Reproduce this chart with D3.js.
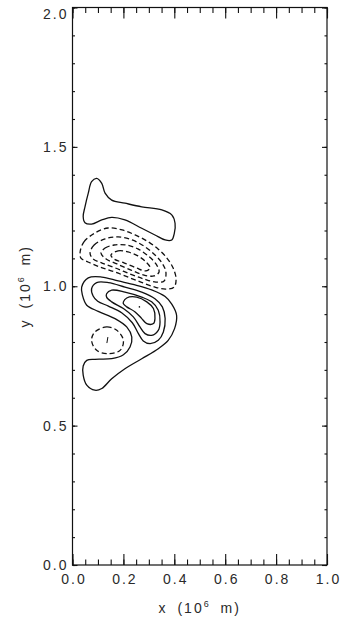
<!DOCTYPE html>
<html>
<head>
  <script src="https://d3js.org/d3.v7.min.js"></script>
  <style>
    body { margin: 0; background: #fff; }
    svg { display: block; }
    .axis path { display: none; }
    .axis line { stroke: #111; stroke-width: 1.1px; }
    .axis text, .title {
      font-family: "Liberation Sans", Arial, sans-serif;
      font-size: 14px;
      fill: #2a2a2a;
      letter-spacing: 2px;
    }
    .frame { fill: none; stroke: #111; stroke-width: 1.2px; }
    .contour { fill: none; stroke: #111; stroke-width: 1.3px; }
    .contour.neg { stroke-dasharray: 5 3; }
  </style>
</head>
<body>
  <script>
    // axis ticks
    var xTicks = [0.0, 0.2, 0.4, 0.6, 0.8, 1.0];
    var yTicks = [0.0, 0.5, 1.0, 1.5, 2.0];

    // positive contours (solid), in units of 10^6 m
    var topLobe = [[0.095,1.387],[0.115,1.369],[0.128,1.334],[0.154,1.309],[0.206,1.298],[0.272,1.285],
      [0.351,1.274],[0.390,1.256],[0.403,1.226],[0.400,1.190],[0.390,1.166],[0.364,1.166],[0.324,1.184],
      [0.272,1.208],[0.206,1.238],[0.154,1.247],[0.115,1.238],[0.075,1.223],[0.049,1.228],[0.042,1.250],
      [0.049,1.285],[0.062,1.334],[0.075,1.375]];
    var posOuter = [[0.036,0.997],[0.062,1.030],[0.115,1.033],[0.180,1.019],[0.246,1.005],[0.311,0.987],
      [0.364,0.963],[0.390,0.936],[0.409,0.896],[0.401,0.848],[0.376,0.806],[0.337,0.776],[0.272,0.740],
      [0.206,0.704],[0.154,0.668],[0.115,0.633],[0.088,0.627],[0.056,0.645],[0.042,0.681],[0.042,0.714],
      [0.056,0.734],[0.088,0.738],[0.154,0.740],[0.200,0.754],[0.226,0.782],[0.233,0.818],[0.213,0.854],
      [0.167,0.884],[0.101,0.910],[0.056,0.932],[0.039,0.968]];
    var posMid = [[0.075,0.991],[0.095,1.013],[0.141,1.013],[0.206,0.997],[0.272,0.979],[0.324,0.955],
      [0.353,0.926],[0.364,0.884],[0.357,0.836],[0.337,0.806],[0.305,0.794],[0.278,0.804],[0.259,0.830],
      [0.235,0.869],[0.193,0.905],[0.141,0.929],[0.099,0.946],[0.081,0.965]];
    var posInner = [[0.134,0.973],[0.154,0.986],[0.206,0.979],[0.272,0.961],[0.311,0.944],[0.337,0.914],
      [0.344,0.872],[0.337,0.842],[0.311,0.824],[0.285,0.830],[0.265,0.854],[0.239,0.890],[0.200,0.920],
      [0.154,0.944],[0.134,0.961]];
    var posCore = [[0.200,0.944],[0.213,0.958],[0.252,0.961],[0.292,0.944],[0.318,0.920],[0.324,0.884],
      [0.318,0.866],[0.292,0.866],[0.272,0.884],[0.246,0.908],[0.213,0.926],[0.200,0.937]];
    var posMax = [[0.263,0.926]];

    // negative contours (dashed)
    var negOuter = [[0.030,1.123],[0.045,1.159],[0.088,1.191],[0.140,1.209],[0.195,1.202],[0.246,1.184],
      [0.293,1.162],[0.336,1.134],[0.371,1.101],[0.395,1.066],[0.407,1.026],[0.399,0.997],[0.367,0.990],
      [0.324,0.997],[0.277,1.012],[0.226,1.030],[0.167,1.051],[0.108,1.069],[0.061,1.087],[0.033,1.101]];
    var negMid = [[0.069,1.119],[0.085,1.148],[0.128,1.170],[0.179,1.177],[0.234,1.166],[0.281,1.144],
      [0.320,1.116],[0.352,1.083],[0.367,1.051],[0.360,1.019],[0.328,1.015],[0.281,1.026],[0.226,1.044],
      [0.167,1.066],[0.116,1.083],[0.081,1.098]];
    var negInner = [[0.112,1.119],[0.128,1.137],[0.163,1.148],[0.210,1.148],[0.257,1.134],[0.297,1.109],
      [0.328,1.080],[0.340,1.051],[0.320,1.037],[0.281,1.040],[0.230,1.058],[0.175,1.080],[0.132,1.098]];
    var negCore = [[0.151,1.112],[0.179,1.127],[0.218,1.123],[0.257,1.109],[0.289,1.087],[0.305,1.066],
      [0.289,1.055],[0.250,1.066],[0.202,1.084],[0.163,1.098]];
    var negSmall = [[0.088,0.836],[0.134,0.854],[0.174,0.842],[0.200,0.806],[0.187,0.770],[0.141,0.758],
      [0.095,0.770],[0.075,0.806]];
    var negMin = [[0.139,0.807]];

    var width = 344, height = 618;
    var margin = {top: 7.5, right: 17, bottom: 53, left: 72.5};

    var svg = d3.select("body").append("svg")
        .attr("width", width)
        .attr("height", height);

    var x = d3.scaleLinear()
        .domain([0, 1])
        .range([margin.left, width - margin.right]);
    var y = d3.scaleLinear()
        .domain([0, 2])
        .range([height - margin.bottom, margin.top]);

    var xMinor = d3.range(0, 1.0001, 0.05);
    var yMinor = d3.range(0, 2.0001, 0.1);

    // frame
    svg.append("rect")
        .attr("class", "frame")
        .attr("x", x(0)).attr("y", y(2))
        .attr("width", x(1) - x(0))
        .attr("height", y(0) - y(2));

    // minor ticks
    svg.append("g").attr("class", "axis")
        .attr("transform", "translate(0," + y(0) + ")")
        .call(d3.axisBottom(x).tickValues(xMinor).tickSize(-5.5).tickFormat(""));
    svg.append("g").attr("class", "axis")
        .attr("transform", "translate(0," + y(2) + ")")
        .call(d3.axisTop(x).tickValues(xMinor).tickSize(-5.5).tickFormat(""));
    svg.append("g").attr("class", "axis")
        .attr("transform", "translate(" + x(0) + ",0)")
        .call(d3.axisLeft(y).tickValues(yMinor).tickSize(-2.5).tickFormat(""));
    svg.append("g").attr("class", "axis")
        .attr("transform", "translate(" + x(1) + ",0)")
        .call(d3.axisRight(y).tickValues(yMinor).tickSize(-2.5).tickFormat(""));

    // major ticks + labels
    svg.append("g").attr("class", "axis")
        .attr("transform", "translate(0," + y(0) + ")")
        .call(d3.axisBottom(x).tickValues(xTicks).tickSize(-11).tickPadding(9).tickFormat(d3.format(".1f")))
      .selectAll("text").attr("dx", "1px");
    svg.append("g").attr("class", "axis")
        .attr("transform", "translate(0," + y(2) + ")")
        .call(d3.axisTop(x).tickValues(xTicks).tickSize(-11).tickFormat(""));
    var yAx = svg.append("g").attr("class", "axis")
        .attr("transform", "translate(" + x(0) + ",0)")
        .call(d3.axisLeft(y).tickValues(yTicks).tickSize(-5).tickPadding(4).tickFormat(d3.format(".1f")));
    yAx.selectAll(".tick text")
        .attr("y", function(d) { return d === 2 ? 6.5 : 0; });
    svg.append("g").attr("class", "axis")
        .attr("transform", "translate(" + x(1) + ",0)")
        .call(d3.axisRight(y).tickValues(yTicks).tickSize(-5).tickFormat(""));

    // contours
    var line = d3.line()
        .x(function(d) { return x(d[0]); })
        .y(function(d) { return y(d[1]); })
        .curve(d3.curveCatmullRomClosed.alpha(0.5));

    var solid = [topLobe, posOuter, posMid, posInner, posCore];
    var dashed = [negOuter, negMid, negInner, negCore, negSmall];

    svg.selectAll(".pos").data(solid).enter()
      .append("path")
        .attr("class", "contour pos")
        .attr("d", line);
    svg.selectAll(".neg").data(dashed).enter()
      .append("path")
        .attr("class", "contour neg")
        .attr("d", line);

    // extremum marks
    svg.selectAll(".maxmark").data(posMax).enter()
      .append("circle")
        .attr("cx", function(d) { return x(d[0]); })
        .attr("cy", function(d) { return y(d[1]); })
        .attr("r", 0.8).attr("fill", "#111");
    svg.selectAll(".minmark").data(negMin).enter()
      .append("line")
        .attr("x1", function(d) { return x(d[0]); })
        .attr("x2", function(d) { return x(d[0]) - 1; })
        .attr("y1", function(d) { return y(d[1]) - 3; })
        .attr("y2", function(d) { return y(d[1]) + 3; })
        .attr("stroke", "#111").attr("stroke-width", 1);

    // axis titles
    var xt = svg.append("text").attr("class", "title")
        .attr("x", x(0.5)).attr("y", 613)
        .attr("text-anchor", "middle")
        .style("word-spacing", "4px");
    xt.append("tspan").text("x (10");
    xt.append("tspan").attr("dy", -6).style("font-size", "9px").text("6");
    xt.append("tspan").attr("dy", 6).text(" m)");

    var yt = svg.append("text").attr("class", "title")
        .attr("transform", "translate(30," + y(1) + ") rotate(-90)")
        .attr("text-anchor", "middle")
        .style("word-spacing", "4px");
    yt.append("tspan").text("y (10");
    yt.append("tspan").attr("dy", -6).style("font-size", "9px").text("6");
    yt.append("tspan").attr("dy", 6).text(" m)");
  </script>
</body>
</html>
